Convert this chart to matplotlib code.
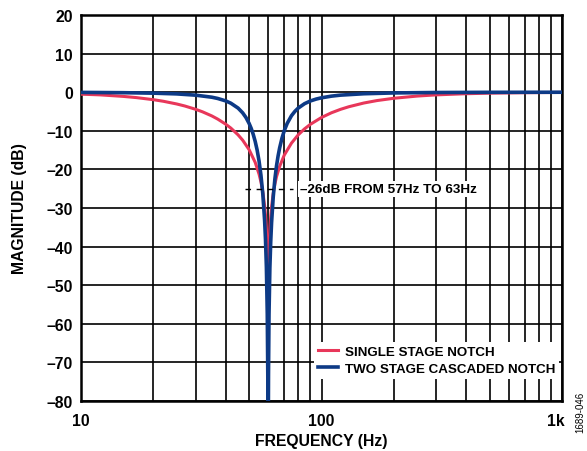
import matplotlib
matplotlib.use("Agg")
import matplotlib.pyplot as plt
import matplotlib.transforms as mtransforms
from matplotlib.ticker import FixedLocator, NullFormatter

plt.rcParams['font.family'] = ['Liberation Sans', 'DejaVu Sans']

# Single stage notch
freq_single = [10, 12, 15, 17, 20, 22, 25, 27, 30, 32, 35, 37, 40, 42, 45, 47, 50, 53, 55, 56,
               57, 58, 58.5, 59, 59.5, 59.8, 59.9, 60, 60.1, 60.2, 60.5, 61, 61.5, 62, 63, 64,
               65, 67, 70, 75, 80, 85, 90, 100, 110, 120, 130, 150, 170, 200, 250, 300, 400,
               500, 700, 1000]
mag_single = [-0.51, -0.69, -1.09, -1.40, -1.94, -2.35, -3.05, -3.57, -4.44, -5.08, -6.15,
              -6.96, -8.30, -9.31, -11.06, -12.42, -14.88, -18.18, -21.23, -23.24,
              -25.8, -29.4, -31.9, -35.5, -41.5, -49.5, -55.6, -100, -55.6, -49.5, -41.6,
              -35.6, -32.2, -29.7, -26.2, -23.8,
              -21.9, -19.2, -16.3, -13.2, -11.05, -9.50, -8.30, -6.55, -5.33, -4.44, -3.76,
              -2.80, -2.17, -1.57, -1.00, -0.69, -0.39,
              -0.25, -0.13, -0.06]

# Two stage cascaded notch
freq_two = [10, 15, 20, 25, 30, 35, 37, 40, 42, 45, 47, 48.5, 50, 51, 52, 53, 54, 55, 56, 57,
            58, 58.5, 59, 59.5, 59.8, 59.9, 60, 60.1, 60.2, 60.5, 61, 61.5, 62, 63, 64, 65,
            66, 67, 68.5, 70, 72, 75, 77.5, 80, 85, 90, 95, 100, 110, 120, 150, 200, 300,
            500, 1000]
mag_two = [-0.05, -0.13, -0.25, -0.44, -0.77, -1.30, -1.62, -2.26, -2.86, -4.12, -5.34, -6.54,
           -8.09, -9.36, -10.9, -12.75, -15.0, -17.85, -21.5, -26.3,
           -33.2, -38.2, -45.3, -57.4, -73.3, -85.4, -120, -85.4, -73.4, -57.5, -45.5,
           -38.7, -33.8, -27.1, -22.5, -19.1,
           -16.5, -14.4, -11.9, -9.98, -8.09, -6.10, -4.97, -4.12, -2.98, -2.26, -1.78,
           -1.45, -1.02, -0.76, -0.40, -0.19, -0.08,
           -0.03, -0.01]

y_ticks = [20, 10, 0, -10, -20, -30, -40, -50, -60, -70, -80]
y_tick_labels = ["20", "10", "0", "–10", "–20", "–30", "–40", "–50", "–60", "–70", "–80"]
x_ticks = [10, 100, 1000]
x_tick_labels = ["10", "100", "1k"]
series_names = ["SINGLE STAGE NOTCH", "TWO STAGE CASCADED NOTCH"]
annotation_text = "–26dB FROM 57Hz TO 63Hz"
annot_level = -25
annot_span = [48, 76]

RED = "#E8375A"
BLUE = "#0D3A86"

fig = plt.figure(figsize=(5.87, 4.52), dpi=100)
ax = fig.add_axes([81/587, 1 - 402/452, (562-81)/587, (402-16)/452])

ax.set_xscale("log")
ax.set_xlim(10, 1000)
ax.set_ylim(-80, 20)

minor = [m * d for d in (10, 100) for m in range(2, 10)]
ax.xaxis.set_major_locator(FixedLocator(x_ticks))
ax.xaxis.set_minor_locator(FixedLocator(minor))
ax.xaxis.set_minor_formatter(NullFormatter())
ax.set_xticklabels(x_tick_labels)
ax.set_yticks(y_ticks)
ax.set_yticklabels(y_tick_labels)

ax.grid(True, which="both", axis="x", color="black", linewidth=1.2)
ax.grid(True, which="major", axis="y", color="black", linewidth=1.2)
ax.set_axisbelow(True)

ax.tick_params(which="both", length=0)
ax.tick_params(axis="x", pad=9)
ax.tick_params(axis="y", pad=6)
for lab in ax.get_xticklabels() + ax.get_yticklabels():
    lab.set_fontweight("bold")
    lab.set_fontsize(11.3)
last = ax.get_xticklabels()[-1]
last.set_transform(last.get_transform() + mtransforms.ScaledTranslation(-6/100, 0, fig.dpi_scale_trans))

for s in ax.spines.values():
    s.set_linewidth(1.8)
    s.set_color("black")

ax.plot(freq_single, mag_single, color=RED, linewidth=2.2, label=series_names[0], zorder=3)
ax.plot(freq_two, mag_two, color=BLUE, linewidth=2.6, label=series_names[1], zorder=4)

ax.plot(annot_span, [annot_level, annot_level], color="black", linewidth=1.0,
        linestyle=(0, (4, 4)), zorder=5)
ax.text(81.5, annot_level, annotation_text, fontsize=9.7, fontweight="bold",
        va="center", ha="left", zorder=6,
        bbox=dict(facecolor="white", edgecolor="none", pad=1.5))

leg = ax.legend(loc="lower right", bbox_to_anchor=(1.0, 0.05), frameon=True, fancybox=False,
                framealpha=1, edgecolor="none", facecolor="white",
                prop=dict(weight="bold", size=9.6), handlelength=1.5, handletextpad=0.5,
                borderpad=0.3, labelspacing=0.35, borderaxespad=0.2)
leg.set_zorder(7)

ax.set_xlabel("FREQUENCY (Hz)", fontsize=11.3, fontweight="bold", labelpad=3)
ax.set_ylabel("MAGNITUDE (dB)", fontsize=11.3, fontweight="bold", labelpad=14)

fig.text(580/587, 1 - 412/452, "1689-046", rotation=90, fontsize=7, ha="center", va="center")

fig.savefig("out.png", dpi=100)
